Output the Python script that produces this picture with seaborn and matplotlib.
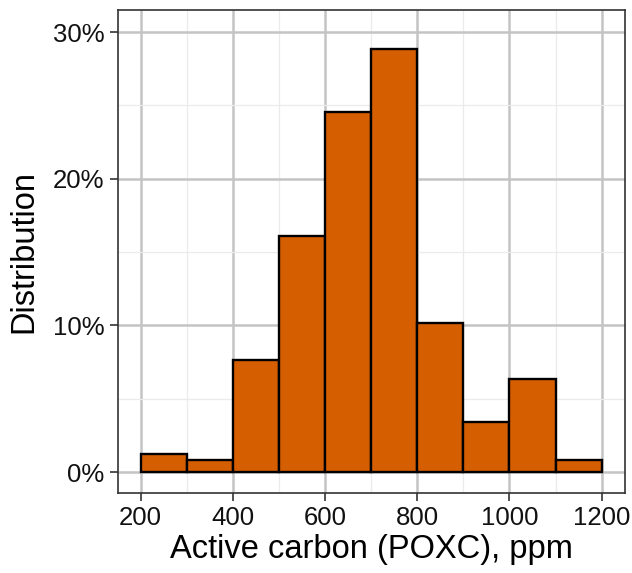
import matplotlib
matplotlib.use("Agg")
import matplotlib.pyplot as plt
import seaborn as sns
import numpy as np
from matplotlib.ticker import PercentFormatter, MultipleLocator

# Data (percent of samples per 100-ppm bin)
bin_edges = [200, 300, 400, 500, 600, 700, 800, 900, 1000, 1100, 1200]
bin_centers = [250, 350, 450, 550, 650, 750, 850, 950, 1050, 1150]
percent = [1.27, 0.85, 7.63, 16.1, 24.58, 28.81, 10.17, 3.39, 6.36, 0.85]
x_ticks = [200, 400, 600, 800, 1000, 1200]
y_ticks = [0, 10, 20, 30]

sns.set_theme(style="white")
plt.rcParams['font.family'] = ['Liberation Sans', 'DejaVu Sans']

fig = plt.figure(figsize=(6.32, 5.73), dpi=100)
ax = fig.add_axes([0.1862, 0.1401, 0.8023, 0.8424])

sns.histplot(x=bin_centers, weights=percent, bins=bin_edges, color="#D55E00",
             edgecolor="black", linewidth=1.7, alpha=1, ax=ax, zorder=3)

ax.set_xlim(150, 1250)
ax.set_ylim(-1.4, 31.5)
ax.set_xticks(x_ticks)
ax.set_yticks(y_ticks)
ax.xaxis.set_minor_locator(MultipleLocator(100))
ax.yaxis.set_minor_locator(MultipleLocator(5))
ax.yaxis.set_major_formatter(PercentFormatter(100, decimals=0))

ax.grid(True, which="major", color="#C4C4C4", linewidth=1.8, zorder=0)
ax.grid(True, which="minor", color="#EBEBEB", linewidth=0.9, zorder=0)
ax.set_axisbelow(True)

for s in ax.spines.values():
    s.set_color("#333333")
    s.set_linewidth(1.2)
    s.set_visible(True)

ax.tick_params(axis="both", which="major", length=5.5, width=1.2, color="#333333",
               labelsize=18.5, labelcolor="#111111", pad=4, bottom=True, left=True)
ax.tick_params(axis="both", which="minor", length=0)

ax.set_xlabel("Active carbon (POXC), ppm", fontsize=23.5, color="black", labelpad=3)
ax.set_ylabel("Distribution", fontsize=23.5, color="black", labelpad=10)

fig.savefig("out.png", dpi=100)
